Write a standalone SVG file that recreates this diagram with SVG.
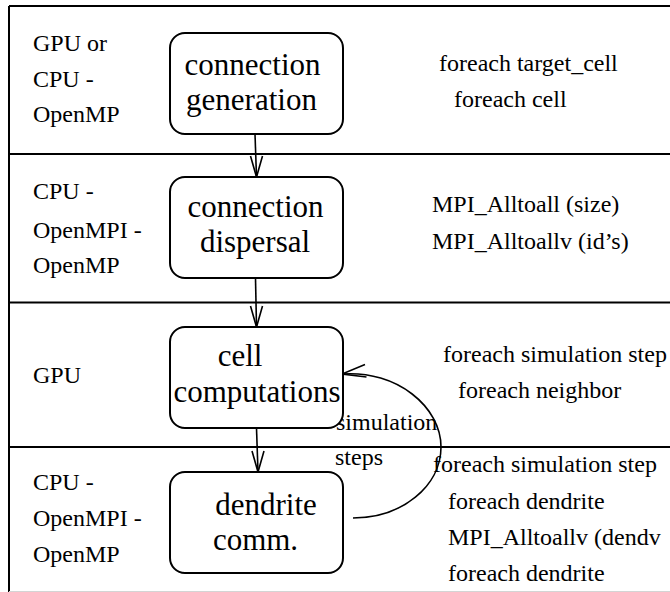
<svg xmlns="http://www.w3.org/2000/svg" width="670" height="592" viewBox="0 0 670 592">
<rect width="670" height="592" fill="#fff"/>
<g id="lanes" fill="none" stroke="#000" stroke-width="2">
  <line x1="9" y1="6" x2="670" y2="6"/>
  <line x1="9" y1="6" x2="9" y2="592"/>
  <line x1="9" y1="154" x2="670" y2="154"/>
  <line x1="9" y1="302.5" x2="670" y2="302.5"/>
  <line x1="9" y1="447" x2="670" y2="447"/>
  <line x1="9" y1="591.5" x2="670" y2="591.5" stroke="#d4d4d4" stroke-width="1"/>
</g>
<g id="lane1-labels" font-family="Liberation Serif" font-size="24">
  <text x="33" y="51">GPU or</text>
  <text x="33" y="87">CPU -</text>
  <text x="33" y="122">OpenMP</text>
  <text x="439" y="71">foreach target_cell</text>
  <text x="454" y="107">foreach cell</text>
</g>
<g id="lane2-labels" font-family="Liberation Serif" font-size="24">
  <text x="33" y="199">CPU -</text>
  <text x="33" y="238">OpenMPI -</text>
  <text x="33" y="273">OpenMP</text>
  <text x="432" y="212">MPI_Alltoall (size)</text>
  <text x="432" y="249">MPI_Alltoallv (id&#8217;s)</text>
</g>
<g id="lane3-labels" font-family="Liberation Serif" font-size="24">
  <text x="33" y="383">GPU</text>
  <text x="443" y="362">foreach simulation step</text>
  <text x="458" y="398">foreach neighbor</text>
</g>
<g id="lane4-labels" font-family="Liberation Serif" font-size="24">
  <text x="33" y="490">CPU -</text>
  <text x="33" y="526">OpenMPI -</text>
  <text x="33" y="562">OpenMP</text>
  <text x="433" y="472">foreach simulation step</text>
  <text x="448" y="509">foreach dendrite</text>
  <text x="448" y="545">MPI_Alltoallv (dendv</text>
  <text x="448" y="581">foreach dendrite</text>
</g>
<g id="connectors">
  <g fill="none" stroke="#000" stroke-width="1.6">
    <line x1="255" y1="134" x2="256.5" y2="177"/>
    <path d="M 250.5 156 L 256.5 177 L 262.5 156"/>
    <line x1="255.5" y1="278" x2="256.5" y2="327"/>
    <path d="M 250.5 306 L 256.5 327 L 262.5 306"/>
    <line x1="256.5" y1="428" x2="258" y2="472"/>
    <path d="M 252 451 L 258 472 L 264 451"/>
    <path d="M 353 518 C 402 518, 441 486, 441 447 C 441 407, 397 370, 342 374"/>
    <path d="M 365 364.5 L 342 374 L 366.5 377"/>
  </g>
  <g font-family="Liberation Serif" font-size="24">
    <text x="336" y="430">simulation</text>
    <text x="335" y="465">steps</text>
  </g>
</g>
<g id="node-connection-generation">
  <rect x="170" y="33" width="173" height="101" rx="15" fill="#fff" stroke="#000" stroke-width="2"/>
  <g font-family="Liberation Serif" font-size="31" text-anchor="middle">
    <text x="252.5" y="75">connection</text>
    <text x="251.5" y="110">generation</text>
  </g>
</g>
<g id="node-connection-dispersal">
  <rect x="170" y="177" width="173" height="101" rx="15" fill="#fff" stroke="#000" stroke-width="2"/>
  <g font-family="Liberation Serif" font-size="31" text-anchor="middle">
    <text x="255.5" y="217">connection</text>
    <text x="255" y="252">dispersal</text>
  </g>
</g>
<g id="node-cell-computations">
  <rect x="170" y="327" width="173" height="101" rx="15" fill="#fff" stroke="#000" stroke-width="2"/>
  <g font-family="Liberation Serif" font-size="31" text-anchor="middle">
    <text x="240" y="366">cell</text>
    <text x="257" y="402">computations</text>
  </g>
</g>
<g id="node-dendrite-comm">
  <rect x="170" y="472" width="173" height="101" rx="15" fill="#fff" stroke="#000" stroke-width="2"/>
  <g font-family="Liberation Serif" font-size="31" text-anchor="middle">
    <text x="266" y="515">dendrite</text>
    <text x="255.5" y="550">comm.</text>
  </g>
</g>
</svg>
